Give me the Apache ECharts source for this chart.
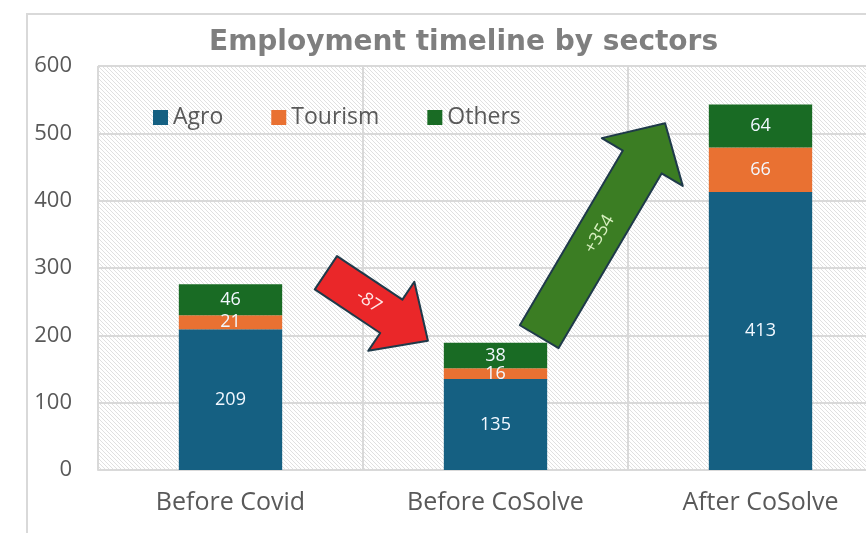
<!DOCTYPE html>
<html>
<head>
<meta charset="utf-8">
<script src="https://cdn.jsdelivr.net/npm/echarts@6/dist/echarts.min.js"></script>
<style>
  html, body { margin: 0; padding: 0; background: #fff; }
  #main { width: 866px; height: 533px; }
</style>
</head>
<body>
<div id="main"></div>
<script>
// data
const categories = ['Before Covid', 'Before CoSolve', 'After CoSolve'];
const agro = [209, 135, 413];
const tourism = [21, 16, 66];
const others = [46, 38, 64];
const yMin = 0, yMax = 600, yStep = 100;

const totals = categories.map((c, i) => agro[i] + tourism[i] + others[i]);
const fmtDiff = d => (d > 0 ? '+' : '') + d;

// diagonal hatch for the plot background
const hatch = document.createElement('canvas');
hatch.width = 4; hatch.height = 4;
const hc = hatch.getContext('2d');
hc.fillStyle = '#ffffff';
hc.fillRect(0, 0, 4, 4);
hc.fillStyle = '#e0e0e0';
for (let i = 0; i < 4; i++) hc.fillRect(i, i, 1, 1);

const font = 'Open Sans';
const chart = echarts.init(document.getElementById('main'));

const option = {
  animation: false,
  color: ['#156082', '#e97132', '#196b24'],
  title: {
    text: 'Employment timeline by sectors',
    left: 204,
    top: 24,
    textStyle: { fontFamily: 'DejaVu Sans', fontWeight: 'bold', fontSize: 28, color: '#7f7f7f' }
  },
  legend: {
    data: ['Agro', 'Tourism', 'Others'],
    left: 148,
    top: 101,
    icon: 'rect',
    itemWidth: 15,
    itemHeight: 15,
    itemGap: 48,
    textStyle: { fontFamily: font, fontSize: 23, color: '#595959' }
  },
  grid: {
    left: 98,
    top: 66,
    width: 795,
    height: 404,
    outerBoundsMode: 'none',
    show: true,
    borderWidth: 0,
    backgroundColor: { image: hatch, repeat: 'repeat' }
  },
  xAxis: {
    type: 'category',
    data: categories,
    axisTick: { show: false },
    axisLine: { lineStyle: { color: '#d9d9d9', width: 2 } },
    splitLine: { show: true, interval: 0, lineStyle: { color: '#d9d9d9', width: 2 } },
    axisLabel: { fontFamily: font, fontSize: 25, color: '#595959', margin: 20 }
  },
  yAxis: {
    type: 'value',
    min: yMin,
    max: yMax,
    interval: yStep,
    axisLine: { show: false },
    axisTick: { show: false },
    splitLine: { lineStyle: { color: '#d9d9d9', width: 2 } },
    axisLabel: { fontFamily: font, fontSize: 22, color: '#595959', margin: 26 }
  },
  series: [
    { name: 'Agro', data: agro },
    { name: 'Tourism', data: tourism },
    { name: 'Others', data: others }
  ].map(s => ({
    name: s.name,
    type: 'bar',
    stack: 'total',
    barWidth: '39%',
    data: s.data,
    label: { show: true, position: 'inside', color: '#f2f8ff', fontFamily: font, fontSize: 18 }
  }))
};
chart.setOption(option);

// arrows (anchors in category-index / value units)
const arrows = [
  { from: [0.36, 293], to: [0.745, 192], shaft: 40, head: 83, headLen: 44, at: 0.42,
    fill: '#ea2729', textColor: '#ffe8e8', text: fmtDiff(totals[1] - totals[0]) },
  { from: [1.165, 198], to: [1.64, 515], shaft: 45, head: 94, headLen: 45, at: 0.48,
    fill: '#3b7d23', textColor: '#d8f0c0', text: fmtDiff(totals[2] - totals[1]) }
];

const x0 = chart.convertToPixel({ xAxisIndex: 0 }, 0);
const x1 = chart.convertToPixel({ xAxisIndex: 0 }, 1);
const toPx = p => [x0 + p[0] * (x1 - x0), chart.convertToPixel({ yAxisIndex: 0 }, p[1])];

const graphics = [{
  type: 'rect',
  z: -10,
  shape: { x: 27, y: 14, width: 1000, height: 700 },
  style: { fill: 'none', stroke: '#d9d9d9', lineWidth: 2 }
}];

arrows.forEach(a => {
  const t = toPx(a.from), p = toPx(a.to);
  const dx = p[0] - t[0], dy = p[1] - t[1];
  const len = Math.sqrt(dx * dx + dy * dy);
  const ux = dx / len, uy = dy / len;
  const nx = -uy, ny = ux;
  const b = [p[0] - ux * a.headLen, p[1] - uy * a.headLen];
  const off = (pt, w) => [pt[0] + nx * w, pt[1] + ny * w];
  const pts = [
    off(t, a.shaft / 2), off(b, a.shaft / 2), off(b, a.head / 2), p,
    off(b, -a.head / 2), off(b, -a.shaft / 2), off(t, -a.shaft / 2)
  ];
  graphics.push({
    type: 'polygon',
    z: 100,
    shape: { points: pts },
    style: { fill: a.fill, stroke: '#1f3a4a', lineWidth: 2, lineJoin: 'round' }
  });
  graphics.push({
    type: 'text',
    z: 101,
    x: t[0] + dx * a.at,
    y: t[1] + dy * a.at,
    rotation: -Math.atan2(dy, dx),
    style: {
      text: a.text, fill: a.textColor, font: '18px "Open Sans"',
      align: 'center', verticalAlign: 'middle'
    }
  });
});

chart.setOption({ graphic: graphics });
</script>
</body>
</html>
